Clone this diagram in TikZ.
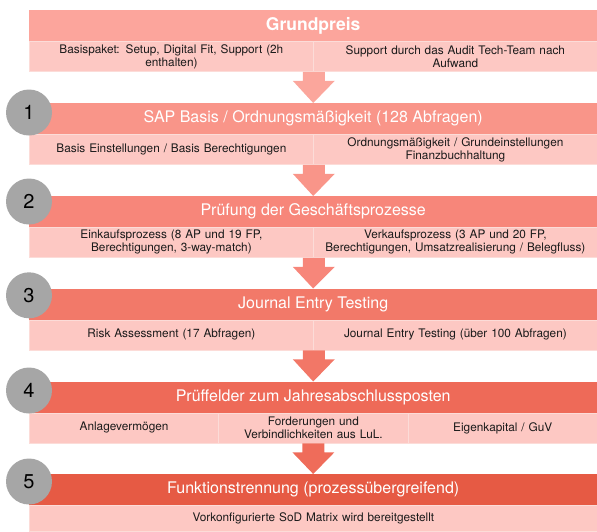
\documentclass[tikz,border=0pt]{standalone}
\usepackage{fontspec}
\setmainfont{TeX Gyre Heros}
\usetikzlibrary{calc}
\definecolor{hdrA}{HTML}{FCA59C}
\definecolor{hdrB}{HTML}{F99589}
\definecolor{hdrC}{HTML}{F7867A}
\definecolor{hdrD}{HTML}{F27969}
\definecolor{hdrE}{HTML}{EE6A58}
\definecolor{hdrF}{HTML}{E65A44}
\definecolor{arrA}{HTML}{FBA69C}
\definecolor{arrB}{HTML}{F99589}
\definecolor{arrC}{HTML}{F7867A}
\definecolor{arrD}{HTML}{F27767}
\definecolor{arrE}{HTML}{EF6C5A}
\definecolor{subfill}{HTML}{FDC8C3}
\definecolor{subline}{HTML}{FCDCD8}
\definecolor{txt}{HTML}{1A1A1A}
\definecolor{numgray}{HTML}{A6A6A6}
\newcommand\flowarrow[3]{\fill[#1] ($(#2)+(-11,0)$) -- ($(#2)+(-11,9)$) -- ($(#2)+(-21,9)$) -- (#3) -- ($(#2)+(21,9)$) -- ($(#2)+(11,9)$) -- ($(#2)+(11,0)$) -- cycle;}
\begin{document}
\begin{tikzpicture}[x=1pt,y=-1pt,
  hdr/.style={anchor=north west, minimum width=568pt, minimum height=31pt, inner sep=0pt, text=white, font=\fontsize{16}{18}\selectfont},
  cell/.style={anchor=north west, minimum height=30pt, inner xsep=0pt, inner ysep=0pt, fill=subfill, draw=subline, line width=0.8pt, text=txt, align=center, font=\fontsize{11.8}{13}\selectfont},
  halfcell/.style={cell, minimum width=284pt, text width=282pt},
  thirdcell/.style={cell, minimum width=189.33pt, text width=185pt},
  fullcell/.style={cell, minimum width=568pt, text width=560pt},
  num/.style={circle, fill=numgray, minimum size=46pt, inner sep=0pt, text=black, font=\fontsize{20}{21}\selectfont}
]
\useasboundingbox (0,0) rectangle (597,531);
% Grundpreis
\node[hdr, fill=hdrA, font=\fontsize{17.5}{19}\selectfont\bfseries] (h0) at (29,10) {Grundpreis};
\node[halfcell] (s0a) at (29,41) {Basispaket: Setup, Digital Fit, Support (2h\\enthalten)};
\node[halfcell] (s0b) at (313,41) {Support durch das Audit Tech-Team nach\\Aufwand};
% 1
\node[hdr, fill=hdrB] (h1) at (29,103) {SAP Basis / Ordnungsmäßigkeit (128 Abfragen)};
\node[halfcell] (s1a) at (29,134) {Basis Einstellungen / Basis Berechtigungen};
\node[halfcell] (s1b) at (313,134) {Ordnungsmäßigkeit / Grundeinstellungen\\Finanzbuchhaltung};
% 2
\node[hdr, fill=hdrC] (h2) at (29,196) {Prüfung der Geschäftsprozesse};
\node[halfcell] (s2a) at (29,227) {Einkaufsprozess (8 AP und 19 FP,\\Berechtigungen, 3-way-match)};
\node[halfcell] (s2b) at (313,227) {Verkaufsprozess (3 AP und 20 FP,\\Berechtigungen, Umsatzrealisierung / Belegfluss)};
% 3
\node[hdr, fill=hdrD] (h3) at (29,288.5) {Journal Entry Testing};
\node[halfcell] (s3a) at (29,319.5) {Risk Assessment (17 Abfragen)};
\node[halfcell] (s3b) at (313,319.5) {Journal Entry Testing (über 100 Abfragen)};
% 4
\node[hdr, fill=hdrE] (h4) at (29,381.5) {Prüffelder zum Jahresabschlussposten};
\node[thirdcell] (s4a) at (29,412.5) {Anlagevermögen};
\node[thirdcell] (s4b) at (218.33,412.5) {Forderungen und\\Verbindlichkeiten aus LuL.};
\node[thirdcell] (s4c) at (407.67,412.5) {Eigenkapital / GuV};
% 5
\node[hdr, fill=hdrF] (h5) at (29,474) {Funktionstrennung (prozessübergreifend)};
\node[fullcell, minimum height=26pt] (s5) at (29,505) {Vorkonfigurierte SoD Matrix wird bereitgestellt};
% arrows
\flowarrow{arrA}{s0a.south east}{h1.north}
\flowarrow{arrB}{s1a.south east}{h2.north}
\flowarrow{arrC}{s2a.south east}{h3.north}
\flowarrow{arrD}{s3a.south east}{h4.north}
\flowarrow{arrE}{s4b.south}{h5.north}
% number circles
\node[num] (n1) at (29,112.5) {1};
\node[num] (n2) at (29,201.5) {2};
\node[num] (n3) at (29,295.3) {3};
\node[num] (n4) at (29,390.5) {4};
\node[num] (n5) at (29,481.5) {5};
\end{tikzpicture}
\end{document}
